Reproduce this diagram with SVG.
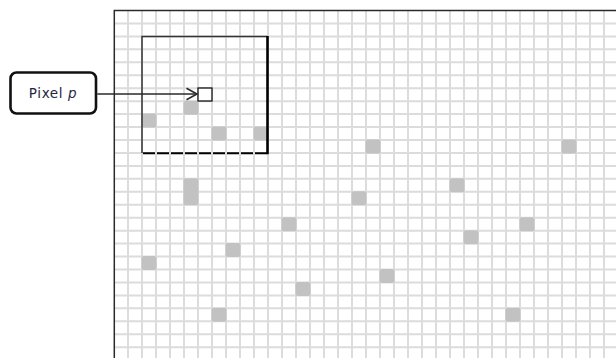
<svg xmlns="http://www.w3.org/2000/svg" width="616" height="358" viewBox="0 0 616 358">
<style>
.grid{fill:none;stroke:#dcdcdc;stroke-width:2}
.f{fill:#c2c2c2}
.border{fill:none;stroke:#2a2a2a;stroke-width:1.5}
.lbl{font-family:"DejaVu Sans",Verdana,sans-serif;font-size:13.5px;fill:#1e2640;letter-spacing:0.6px}
.conn{fill:none;stroke:#2a2a2a;stroke-width:1.6}
</style>
<defs>
<marker id="chev" markerWidth="14" markerHeight="14" refX="11" refY="7" orient="auto" markerUnits="userSpaceOnUse">
<path d="M0.5 1.2 L11 7 L0.5 12.8" fill="none" stroke="#2a2a2a" stroke-width="1.6"/>
</marker>
</defs>
<rect width="616" height="358" fill="#ffffff"/>
<g id="grid">
<path class="grid" d="M128 11V358M142 11V358M156 11V358M170 11V358M184 11V358M198 11V358M212 11V358M226 11V358M240 11V358M254 11V358M268 11V358M282 11V358M296 11V358M310 11V358M324 11V358M338 11V358M352 11V358M366 11V358M380 11V358M394 11V358M408 11V358M422 11V358M436 11V358M450 11V358M464 11V358M478 11V358M492 11V358M506 11V358M520 11V358M534 11V358M548 11V358M562 11V358M576 11V358M590 11V358M604 11V358"/>
<path class="grid" d="M114 23.45H616M114 36.4H616M114 49.35H616M114 62.3H616M114 75.25H616M114 88.2H616M114 101.15H616M114 114.1H616M114 127.05H616M114 140H616M114 152.95H616M114 165.9H616M114 178.85H616M114 191.8H616M114 204.75H616M114 217.7H616M114 230.65H616M114 243.6H616M114 256.55H616M114 269.5H616M114 282.45H616M114 295.4H616M114 308.35H616M114 321.3H616M114 334.25H616M114 347.2H616"/>
<g id="filled-pixels">
<rect class="f" x="141.5" y="113.6" width="15" height="14" rx="2.5"/>
<rect class="f" x="183.5" y="100.65" width="15" height="14" rx="2.5"/>
<rect class="f" x="211.5" y="126.55" width="15" height="14" rx="2.5"/>
<rect class="f" x="253.5" y="126.55" width="15" height="14" rx="2.5"/>
<rect class="f" x="365.5" y="139.5" width="15" height="14" rx="2.5"/>
<rect class="f" x="561.5" y="139.5" width="15" height="14" rx="2.5"/>
<rect class="f" x="183.5" y="178.35" width="15" height="27" rx="2.5"/>
<rect class="f" x="449.5" y="178.35" width="15" height="14" rx="2.5"/>
<rect class="f" x="351.5" y="191.3" width="15" height="14" rx="2.5"/>
<rect class="f" x="281.5" y="217.2" width="15" height="14" rx="2.5"/>
<rect class="f" x="519.5" y="217.2" width="15" height="14" rx="2.5"/>
<rect class="f" x="463.5" y="230.15" width="15" height="14" rx="2.5"/>
<rect class="f" x="225.5" y="243.1" width="15" height="14" rx="2.5"/>
<rect class="f" x="141.5" y="256.05" width="15" height="14" rx="2.5"/>
<rect class="f" x="379.5" y="269" width="15" height="14" rx="2.5"/>
<rect class="f" x="295.5" y="281.95" width="15" height="14" rx="2.5"/>
<rect class="f" x="211.5" y="307.85" width="15" height="14" rx="2.5"/>
<rect class="f" x="505.5" y="307.85" width="15" height="14" rx="2.5"/>
</g>
<path class="border" d="M114.3 358V10.6H616"/>
</g>
<g id="window">
<path d="M142 153V36.4H267.5" fill="none" stroke="#333" stroke-width="1.5"/>
<path d="M267.5 36V154.2" fill="none" stroke="#000" stroke-width="2.6"/>
<path d="M143 153.2H267" fill="none" stroke="#000" stroke-width="2" stroke-dasharray="12 2"/>
</g>
<g id="pixel-p">
<rect x="198" y="88" width="14" height="13" fill="#ffffff" stroke="#111" stroke-width="1.3"/>
</g>
<g id="label">
<rect x="10.5" y="72.5" width="85.5" height="41" rx="6" fill="#ffffff" stroke="#111" stroke-width="2.6"/>
<text class="lbl" x="53" y="98" text-anchor="middle">Pixel <tspan font-style="italic">p</tspan></text>
</g>
<g id="connectors">
<path class="conn" d="M97.3 94H197" marker-end="url(#chev)"/>
</g>
</svg>
